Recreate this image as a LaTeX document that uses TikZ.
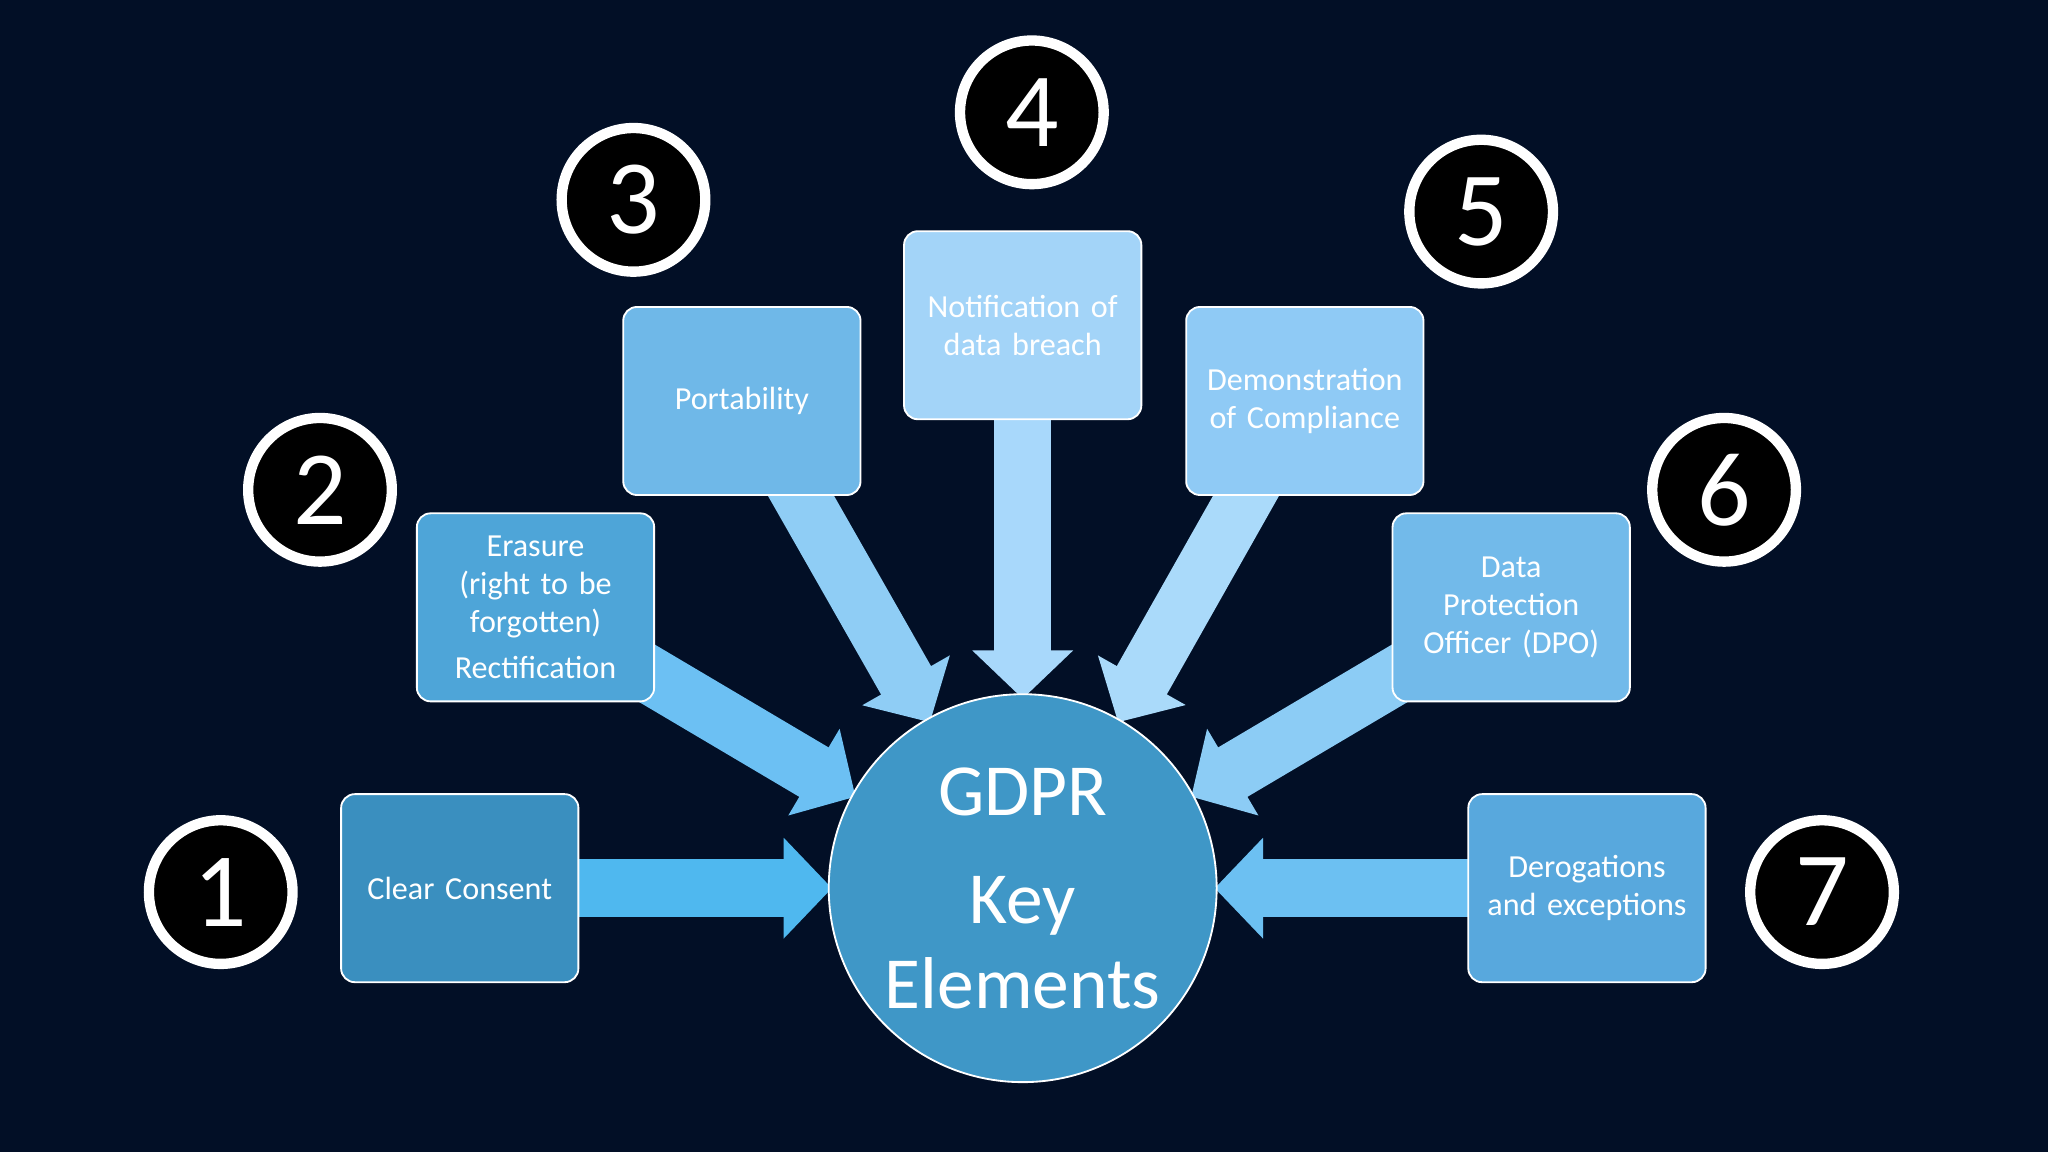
\documentclass[tikz,border=0pt]{standalone}
\usepackage{fontspec}
\setmainfont{Carlito}
\usetikzlibrary{arrows.meta}
\pgfdeclarelayer{bg}\pgfdeclarelayer{arr}
\pgfsetlayers{bg,arr,main}
\definecolor{navy}{HTML}{020F26}
\begin{document}
\begin{tikzpicture}[x=0.02cm,y=-0.02cm,
 box/.style={draw=white,line width=0.8pt,rounded corners=6pt,minimum width=3.6cm,minimum height=2.88cm,text width=3.4cm,align=center,text=white,font=\fontsize{14}{16.5}\selectfont},
 num/.style={circle,draw=white,line width=4.5pt,fill=black,minimum size=2.2cm,text=white,font=\fontsize{46}{46}\selectfont},
 blk/.style={line width=0.88cm,-{Triangle[width=1.5cm,length=0.74cm]}}]
\begin{pgfonlayer}{bg}
\fill[navy] (0,0) rectangle (1568,882);
\end{pgfonlayer}
\useasboundingbox (0,0) rectangle (1568,882);
\node[circle,draw=white,line width=0.8pt,fill={rgb,255:red,63;green,151;blue,199},minimum size=5.2cm,text=white,align=center,font=\fontsize{32}{37}\selectfont] (c) at (783,680) {GDPR\\[0.35cm]Key\\Elements};
\node[box,fill={rgb,255:red,58;green,143;blue,191}] (b1) at (352,680) {Clear Consent};
\node[box,fill={rgb,255:red,78;green,165;blue,216}] (b2) at (410,465) {Erasure\\(right to be\\forgotten)\\[0.12cm]Rectification};
\node[box,fill={rgb,255:red,111;green,184;blue,232}] (b3) at (568,307) {Portability};
\node[box,fill={rgb,255:red,163;green,212;blue,248}] (b4) at (783,249) {Notification of\\data breach\\[0.9cm]};
\node[box,fill={rgb,255:red,143;green,202;blue,245}] (b5) at (999,307) {Demonstration\\of Compliance\\[0.4cm]};
\node[box,fill={rgb,255:red,114;green,186;blue,234}] (b6) at (1157,465) {Data\\Protection\\Officer (DPO)};
\node[box,fill={rgb,255:red,88;green,168;blue,221}] (b7) at (1215,680) {Derogations\\and exceptions};
\node[num] (n1) at (169,683) {1};
\node[num] (n2) at (245,375) {2};
\node[num] (n3) at (485,153) {3};
\node[num] (n4) at (790,86) {4};
\node[num] (n5) at (1134,162) {5};
\node[num] (n6) at (1320,375) {6};
\node[num] (n7) at (1395,683) {7};
\coordinate (t1) at (637,680);
\coordinate (t7) at (930,680);
\coordinate (t4) at (783,535);
\coordinate (t3) at (712,553);
\coordinate (t5) at (856,553);
\coordinate (t2) at (655,610);
\coordinate (t6) at (912,610);
\coordinate (s3) at (585,330);
\coordinate (s5) at (982,330);
\begin{pgfonlayer}{arr}
\draw[blk,draw={rgb,255:red,79;green,184;blue,239}] (b1.center) -- (t1);
\draw[blk,draw={rgb,255:red,108;green,192;blue,242}] (b7.center) -- (t7);
\draw[blk,draw={rgb,255:red,168;green,216;blue,251}] (b4.center) -- (t4);
\draw[blk,draw={rgb,255:red,143;green,205;blue,245}] (s3) -- (t3);
\draw[blk,draw={rgb,255:red,170;green,218;blue,250}] (s5) -- (t5);
\draw[blk,draw={rgb,255:red,108;green,192;blue,243}] (b2.center) -- (t2);
\draw[blk,draw={rgb,255:red,140;green,204;blue,245}] (b6.center) -- (t6);
\end{pgfonlayer}
\end{tikzpicture}
\end{document}
